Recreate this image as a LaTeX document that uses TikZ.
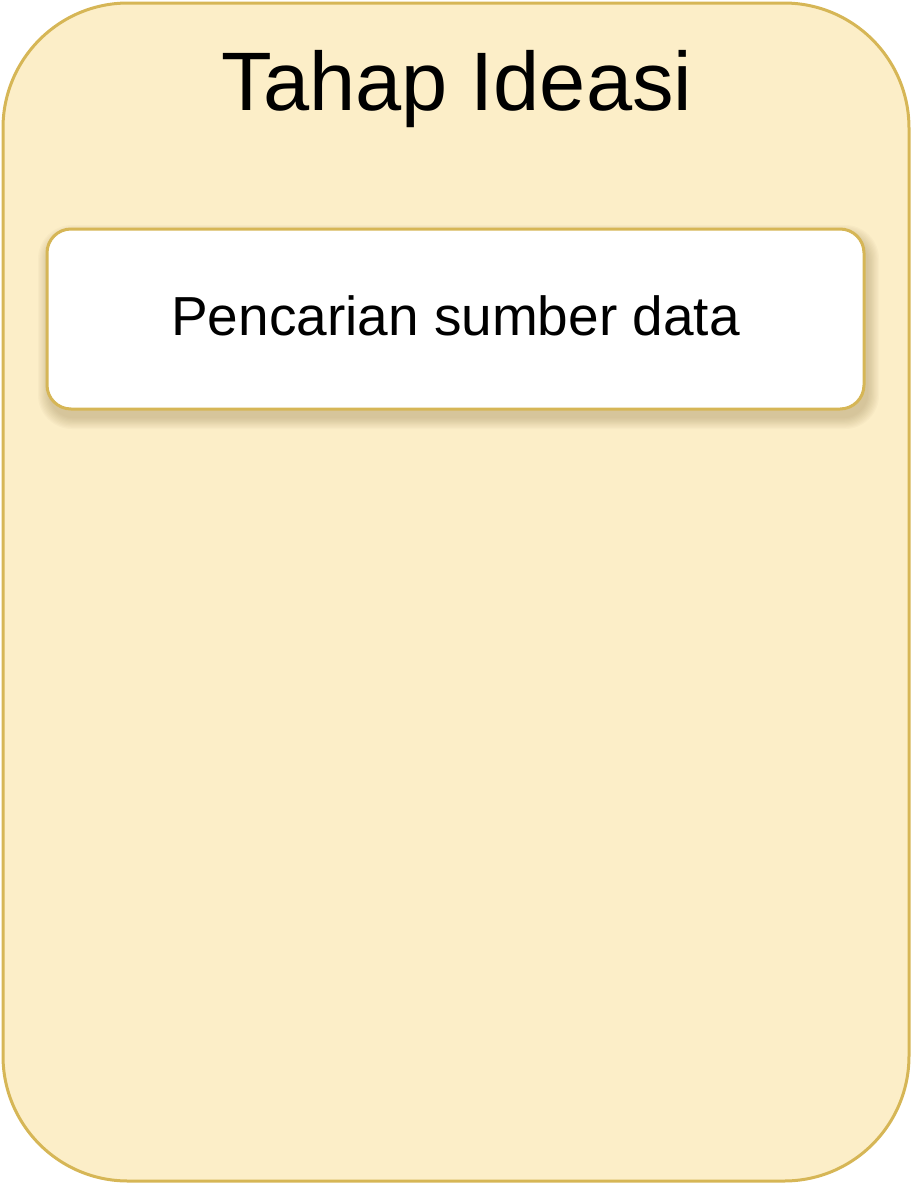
\documentclass[tikz,border=0pt]{standalone}
\usepackage{fontspec}
\setmainfont{Liberation Sans}
\definecolor{outerfill}{HTML}{FCEEC8}
\definecolor{goldline}{HTML}{D6B656}
\definecolor{shadowcol}{HTML}{8A7440}
\tikzset{
  outerbox/.style={draw=goldline, line width=3pt, fill=outerfill, rounded corners=125pt},
  innerbox/.style={draw=goldline, line width=3pt, fill=white, rounded corners=24pt},
  shadowlayer/.style={fill=shadowcol, fill opacity=0.035, draw=none},
}
\begin{document}
\begin{tikzpicture}[x=1pt,y=-1pt]
\useasboundingbox (0,0) rectangle (912,1184);
\draw[outerbox] (3,3) rectangle (909,1181);
\node[anchor=base, font=\fontsize{83}{90}\selectfont, inner sep=0pt] (title) at (457,110) {Tahap Ideasi};
\foreach \i in {1,...,10} {
  \fill[shadowlayer, rounded corners=24pt+\i pt] (50-\i*1.2,237-\i*1.2) rectangle (867+\i*1.2,417+\i*1.2);
}
\draw[innerbox] (47,229) rectangle (864,409);
\coordinate (boxc) at (455.5,319);
\node[anchor=base, font=\fontsize{55}{60}\selectfont, inner sep=0pt] (step1) at (455.5,335) {Pencarian sumber data};
\end{tikzpicture}
\end{document}
